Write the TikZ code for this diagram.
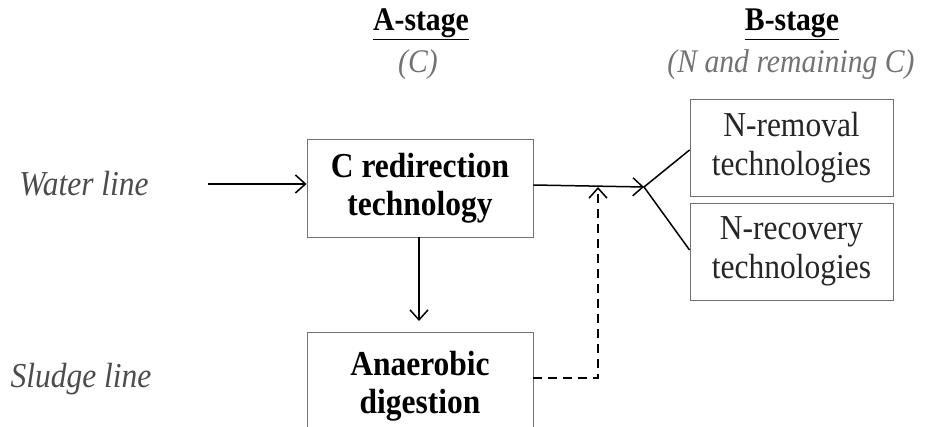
\documentclass[tikz,border=0pt]{standalone}
\usepackage{fontspec}
\setmainfont[FakeStretch=0.9]{Liberation Serif}
\usetikzlibrary{arrows.meta}
\definecolor{boxgray}{gray}{0.45}
\definecolor{labgray}{gray}{0.3}
\definecolor{subgray}{gray}{0.45}
\tikzset{
  procbox/.style={draw=boxgray, line width=0.9pt, align=center, inner sep=0pt,
    font=\fontsize{35}{38}\selectfont\bfseries},
  techbox/.style={draw=boxgray, line width=0.9pt, align=center, inner sep=0pt,
    minimum width=203pt, minimum height=97pt, text=black!85,
    font=\fontsize{35}{39}\selectfont},
  linelabel/.style={text=labgray, font=\fontsize{35}{37}\selectfont\itshape, inner sep=0pt},
  stagetitle/.style={font=\fontsize{33}{35}\selectfont\bfseries, inner sep=0pt},
  stagesub/.style={text=subgray, font=\fontsize{33}{35}\selectfont\itshape, inner sep=0pt},
  flow/.style={line width=1.5pt, -{Straight Barb[length=10pt,width=18pt,line width=1.5pt]}},
  fork/.style={line width=1.5pt},
}
\begin{document}
\begin{tikzpicture}[x=1pt,y=-1pt]
\clip (0,0) rectangle (925,427);
\fill[white] (0,0) rectangle (925,427);
% stage titles
\node[stagetitle] (astage) at (421,24) {\underline{A-stage}};
\node[stagesub] (asub) at (418,65) {(C)};
\node[stagetitle] (bstage) at (792,24) {\underline{B-stage}};
\node[stagesub] (bsub) at (791,65) {(N and remaining C)};
% line labels
\node[linelabel] (water) at (84,184) {Water line};
\node[linelabel] (sludge) at (81,379) {Sludge line};
% boxes
\node[procbox, minimum width=226pt, minimum height=98pt] (cred) at (420,188) {C redirection\\technology};
\node[procbox, minimum width=226pt, minimum height=108pt] (ad) at (420,386) {Anaerobic\\digestion};
\node[techbox] (nrem) at (791.5,147.5) {N-removal\\technologies};
\node[techbox] (nrec) at (791.5,251.5) {N-recovery\\technologies};
% coordinates
\coordinate (win) at (208,184);
\coordinate (fk) at (644,187);
\coordinate (join) at (598,187);
\coordinate (corner) at (598,378);
\coordinate (adtop) at (419,321);
% connectors
\draw[flow] (win) -- (cred.west |- win);
\draw[flow] (cred.east |- 0,185) -- (fk);
\draw[flow] (cred.south -| adtop) -- (adtop);
\draw[flow, dashed, dash pattern=on 9pt off 6pt] (ad.east |- corner) -- (corner) -- (join);
\draw[fork] (nrem.west |- 0,150) -- (fk) -- (nrec.west |- 0,250);
\end{tikzpicture}
\end{document}
